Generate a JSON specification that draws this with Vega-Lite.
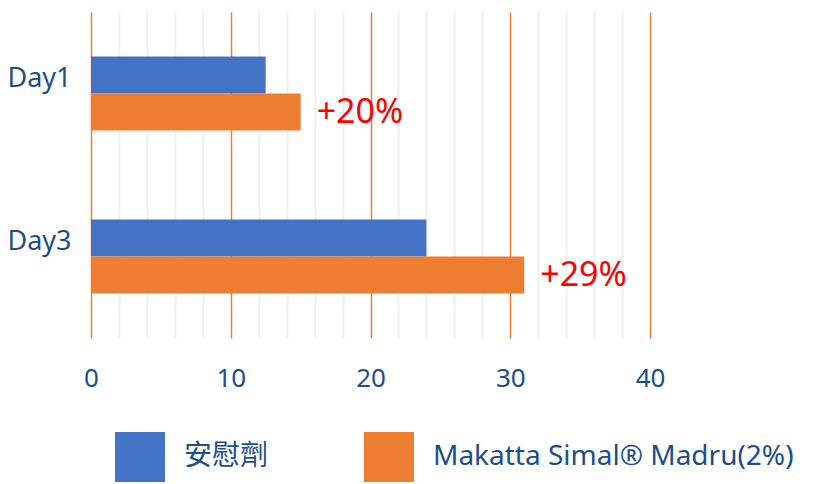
{
  "$schema": "https://vega.github.io/schema/vega-lite/v6.json",
  "width": 559,
  "height": 326,
  "autosize": "none",
  "padding": {"left": 91, "top": 12, "right": 166, "bottom": 146},
  "background": "white",
  "config": {"view": {"stroke": null}, "font": "Noto Sans, Noto Sans CJK TC"},
  "data": {
    "values": [
      {"day": "Day1", "group": "安慰劑", "value": 12.5, "label": null},
      {"day": "Day1", "group": "Makatta Simal® Madru(2%)", "value": 15, "label": "+20%"},
      {"day": "Day3", "group": "安慰劑", "value": 24, "label": null},
      {"day": "Day3", "group": "Makatta Simal® Madru(2%)", "value": 31, "label": "+29%"}
    ]
  },
  "encoding": {
    "y": {
      "field": "day", "type": "nominal", "title": null,
      "scale": {"paddingInner": 0.546, "paddingOuter": 0.273},
      "axis": {"domain": false, "ticks": false, "labelFontSize": 27, "labelColor": "#1A4F8B", "labelPadding": 20, "labelOffset": -15}
    },
    "yOffset": {"field": "group", "type": "nominal", "sort": ["安慰劑", "Makatta Simal® Madru(2%)"]},
    "x": {
      "field": "value", "type": "quantitative", "title": null,
      "scale": {"domain": [0, 40], "nice": false},
      "axis": {
        "values": [0,2,4,6,8,10,12,14,16,18,20,22,24,26,28,30,32,34,36,38,40],
        "labelExpr": "datum.value % 10 === 0 ? datum.label : ''",
        "domain": false, "ticks": false,
        "labelFontSize": 26, "labelColor": "#1A4F8B", "labelPadding": 27,
        "grid": true,
        "gridColor": {"condition": {"test": "datum.value % 10 === 0", "value": "#ED7D31"}, "value": "#EFEFEF"},
        "gridWidth": {"condition": {"test": "datum.value % 10 === 0", "value": 1.5}, "value": 2},
        "labelFlush": false
      }
    }
  },
  "layer": [
    {
      "mark": {"type": "bar", "opacity": 1},
      "encoding": {
        "color": {
          "field": "group", "type": "nominal", "sort": ["安慰劑", "Makatta Simal® Madru(2%)"],
          "scale": {"domain": ["安慰劑", "Makatta Simal® Madru(2%)"], "range": ["#4472C4", "#ED7D31"]},
          "legend": {
            "title": null, "orient": "none", "legendX": 24, "legendY": 420,
            "direction": "horizontal", "columns": 2, "padding": 0,
            "symbolType": "square", "symbolSize": 2500, "symbolStrokeWidth": 0, "symbolOpacity": 1,
            "labelFontSize": 28, "labelColor": "#1A4F8B", "labelOffset": 19, "columnPadding": 95,
            "labelLimit": 600
          }
        }
      }
    },
    {
      "transform": [{"filter": "datum.label != null"}],
      "mark": {"type": "text", "align": "left", "baseline": "middle", "dx": 16, "dy": 1, "fontSize": 34, "color": "#FF0000"},
      "encoding": {"text": {"field": "label"}}
    }
  ]
}
